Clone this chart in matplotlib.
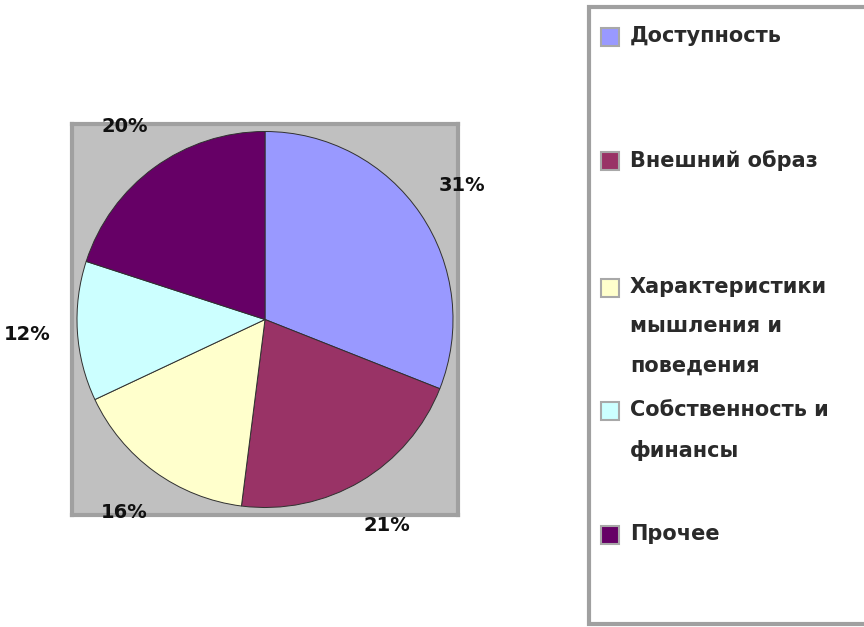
import matplotlib
matplotlib.use('Agg')
import matplotlib.pyplot as plt
from matplotlib.patches import Rectangle

categories = ['Доступность', 'Внешний образ', 'Характеристики\nмышления и\nповедения',
              'Собственность и\nфинансы', 'Прочее']
shares = [31, 21, 16, 12, 20]
colors = ['#9999FF', '#993366', '#FFFFCC', '#CCFFFF', '#660066']

W, H = 864, 627
fig = plt.figure(figsize=(W / 100, H / 100), dpi=100)
fig.patch.set_facecolor('white')

# plot area (gray box) in pixels: x 72..458, y 124..515
ax = fig.add_axes([72 / W, 1 - 515 / H, 386 / W, 391 / H])
ax.set_facecolor('#C0C0C0')
for s in ax.spines.values():
    s.set_color('#A0A0A0')
    s.set_linewidth(3)

wedges, texts, autotexts = ax.pie(
    shares, colors=colors, startangle=90, counterclock=False,
    autopct='%.0f%%', pctdistance=1.27,
    wedgeprops=dict(edgecolor='#303030', linewidth=0.7),
    textprops=dict(fontsize=14, fontweight='bold', color='#111111'))
ax.set_aspect('auto')
ax.set_xlim(-193 / 188, 193 / 188)
ax.set_ylim(-195.5 / 188, 195.5 / 188)
ax.set_xticks([])
ax.set_yticks([])
ax.set_frame_on(True)
for t in autotexts:
    t.set_clip_on(False)

# legend drawn by hand to follow the original spacing
lax = fig.add_axes([0, 0, 1, 1], facecolor='none')
lax.set_xlim(0, W)
lax.set_ylim(H, 0)
lax.axis('off')
lax.add_patch(Rectangle((589, 7), 290, 617, facecolor='white', edgecolor='#A0A0A0',
                        linewidth=3, clip_on=False))
legend_top = [37, 161, 288, 411, 535]
for cat, col, y in zip(categories, colors, legend_top):
    lax.add_patch(Rectangle((601, y - 9), 18, 18, facecolor=col, edgecolor='#A8A8A8',
                            linewidth=1.5))
    lax.text(630, y - 11, cat, fontsize=15, fontweight='bold', color='#2a2a2a',
             ha='left', va='top', linespacing=2.2)

fig.savefig('out.png', dpi=100)
